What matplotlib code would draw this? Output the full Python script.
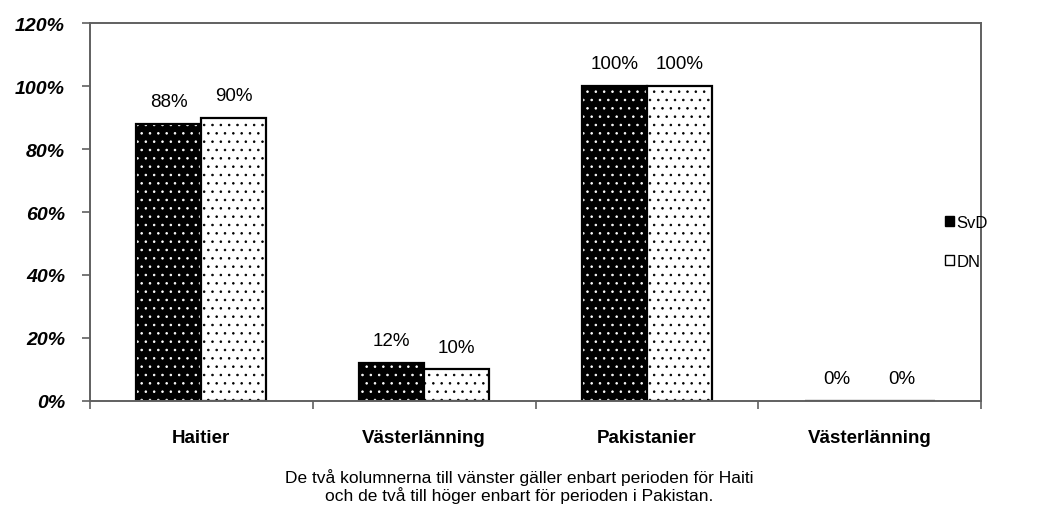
import matplotlib
matplotlib.use("Agg")
import matplotlib.pyplot as plt
from matplotlib.patches import Patch
import numpy as np

categories = ["Haitier", "Västerlänning", "Pakistanier", "Västerlänning"]
svd = [88, 12, 100, 0]
dn = [90, 10, 100, 0]
yticks = [0, 20, 40, 60, 80, 100, 120]
note = ("De två kolumnerna till vänster gäller enbart perioden för Haiti\n"
        "och de två till höger enbart för perioden i Pakistan.")

plt.rcParams['font.family'] = ['Liberation Sans', 'DejaVu Sans']
plt.rcParams['hatch.linewidth'] = 0.6

fig = plt.figure(figsize=(10.45, 5.10), dpi=100)
ax = fig.add_axes([0.0861, 0.2118, 0.8527, 0.7411])

x = np.arange(len(categories))
w = 0.292
frame = '#606060'

# black bars with white dots, white bars with black dots
ax.bar(x - w/2, svd, w, color='black', edgecolor='white', hatch='..', lw=0)
ax.bar(x - w/2, svd, w, fill=False, edgecolor='black', lw=1.6)
ax.bar(x + w/2, dn, w, color='white', edgecolor='black', hatch='..', lw=0)
ax.bar(x + w/2, dn, w, fill=False, edgecolor='black', lw=1.6)

for xi, v in zip(x, svd):
    ax.annotate(f"{v}%", (xi - w/2, v), xytext=(0, 10), textcoords='offset points',
                ha='center', va='bottom', fontsize=13.5)
for xi, v in zip(x, dn):
    ax.annotate(f"{v}%", (xi + w/2, v), xytext=(0, 10), textcoords='offset points',
                ha='center', va='bottom', fontsize=13.5)

ax.set_xlim(-0.5, len(categories) - 0.5)
ax.set_ylim(0, 120)
ax.set_yticks(yticks)
ax.set_yticklabels([f"{t}%" for t in yticks], fontsize=14, fontweight='bold', style='italic')
ax.set_xticks(x)
ax.set_xticklabels(categories, fontsize=13.5, fontweight='bold')
ax.tick_params(axis='x', length=0, pad=20)
ax.tick_params(axis='y', length=6, width=1.2, color=frame, pad=12)
ax.set_xticks(np.arange(len(categories) + 1) - 0.5, minor=True)
ax.tick_params(axis='x', which='minor', length=6, width=1.2, color=frame)

for s in ax.spines.values():
    s.set_color(frame)
    s.set_linewidth(1.4)

# legend
handles = [Patch(facecolor='black', edgecolor='black', label='SvD'),
           Patch(facecolor='white', edgecolor='black', label='DN')]
fig.legend(handles=handles, loc='center left', bbox_to_anchor=(0.890, 0.523),
           frameon=False, fontsize=12, handlelength=0.55, handleheight=0.55,
           handletextpad=0.15, labelspacing=1.45)

fig.text(0.497, 0.012, note, ha='center', va='bottom', fontsize=12.5, linespacing=1.05)

fig.savefig("out.png", dpi=100)
